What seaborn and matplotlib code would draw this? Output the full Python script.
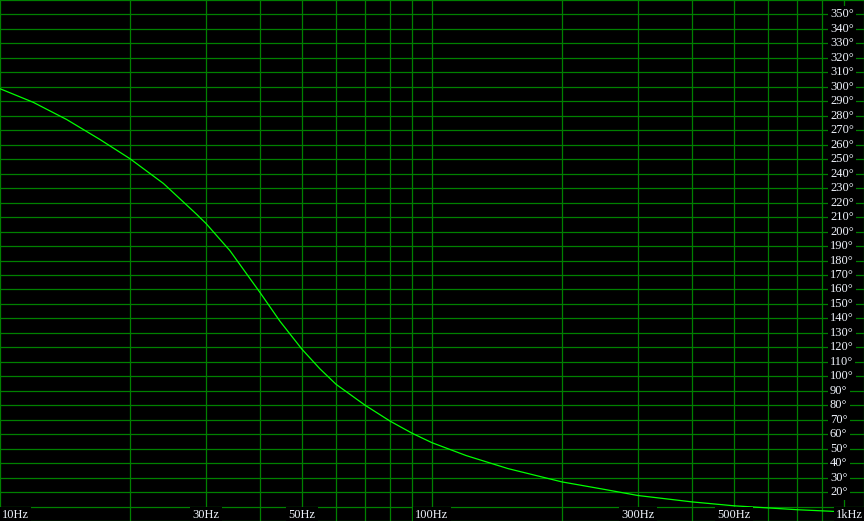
import matplotlib

matplotlib.use('Agg')
import matplotlib.pyplot as plt
from matplotlib.ticker import FixedLocator, NullFormatter
import seaborn as sns
import pandas

# valores (frequencia em Hz, fase em graus)
frequencias = [10, 11.94, 14.27, 17.04, 20, 23.9, 28.5, 30, 34.06, 40, 44.5,
               50, 55, 60, 70, 80, 90, 100, 120, 150, 200, 250, 300, 400,
               500, 700, 1000]
fases = [298.7, 289.3, 277.4, 263.6, 250.3, 233.2, 212.0, 205.5, 186.8, 157.8,
         137.9, 118.7, 105.2, 94.4, 80.0, 69.0, 60.6, 54.1, 45.2, 36.2, 27.0,
         21.9, 17.6, 13.2, 10.5, 7.8, 5.7]

grade_x = [10, 20, 30, 40, 50, 60, 70, 80, 90,
           100, 200, 300, 400, 500, 600, 700, 800, 900, 1000]
grade_y = list(range(0, 361, 10))

rotulos_x = {10: '10Hz', 30: '30Hz', 50: '50Hz', 100: '100Hz',
             300: '300Hz', 500: '500Hz', 1000: '1kHz'}
rotulos_y = list(range(20, 351, 10))

dataframe = pandas.DataFrame({'frequencia': frequencias, 'fase': fases})

verde_grade = '#008000'
verde_curva = '#00ff00'
cor_texto = '#eef2fa'
fonte = ['Liberation Serif', 'DejaVu Serif']

fig = plt.figure(figsize=(8.64, 5.21), dpi=100, facecolor='black')
ax = fig.add_axes([0, 0, 1, 1])
ax.set_facecolor('black')

ax.set_xscale('log')
ax.set_xlim(10, 1000)
ax.set_ylim(0, 360)

ax.xaxis.set_major_locator(FixedLocator(grade_x))
ax.xaxis.set_minor_locator(FixedLocator([]))
ax.yaxis.set_major_locator(FixedLocator(grade_y))
ax.xaxis.set_major_formatter(NullFormatter())
ax.xaxis.set_minor_formatter(NullFormatter())
ax.yaxis.set_major_formatter(NullFormatter())
ax.tick_params(which='both', length=0)
ax.grid(True, which='major', color=verde_grade, linewidth=0.9, zorder=0)
ax.set_axisbelow(True)
for lado in ax.spines.values():
    lado.set_visible(False)

sns.lineplot(data=dataframe, x='frequencia', y='fase', ax=ax,
             color=verde_curva, linewidth=0.9, zorder=2)
ax.set_xlabel('')
ax.set_ylabel('')

for valor in rotulos_y:
    ax.text(830 / 864, valor, f'{valor}°', transform=ax.get_yaxis_transform(),
            ha='left', va='center', color=cor_texto, fontsize=9,
            family=fonte, zorder=5,
            bbox=dict(facecolor='black', edgecolor='none', pad=1.5))

for freq, texto in rotulos_x.items():
    if freq == 10:
        alinhamento = 'left'
        deslocamento = 1.0107
    elif freq == 1000:
        alinhamento = 'right'
        deslocamento = 1 / 1.0047
    else:
        alinhamento = 'center'
        deslocamento = 1
    ax.text(freq * deslocamento, 3 / 521, texto,
            transform=ax.get_xaxis_transform(),
            ha=alinhamento, va='baseline', color=cor_texto, fontsize=9,
            family=fonte, zorder=5,
            bbox=dict(facecolor='black', edgecolor='none', pad=1.5))

fig.savefig('out.png', dpi=100, facecolor='black')
